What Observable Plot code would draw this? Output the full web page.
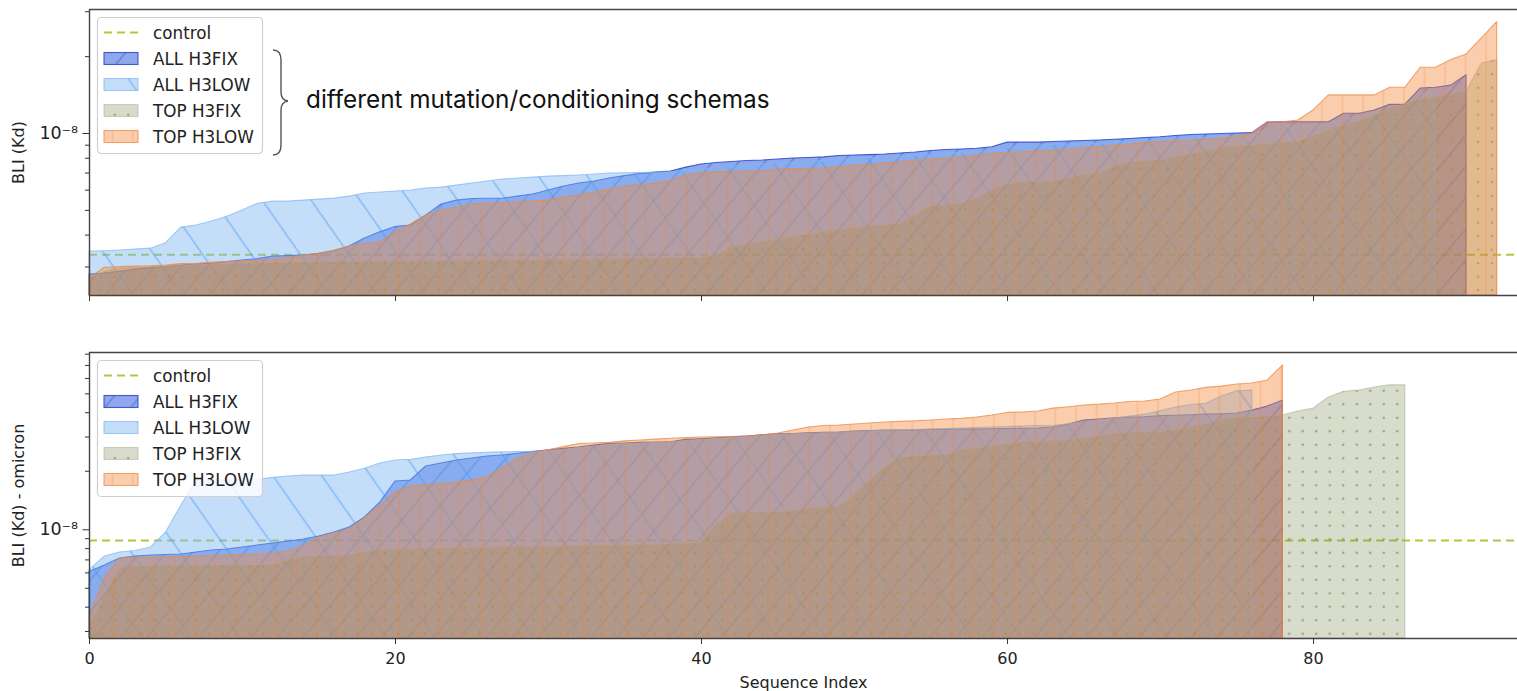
<!DOCTYPE html>
<html><head><meta charset="utf-8">
<script src="https://cdn.jsdelivr.net/npm/d3@7"></script>
<script src="https://cdn.jsdelivr.net/npm/@observablehq/plot@0.6"></script>
<style>
body{margin:0;background:#fff;}
#wrap{width:1517px;height:691px;overflow:hidden;}
#wrap svg{display:block;}
</style>
</head><body><div id="wrap"></div>
<script>
// ---------- DATA (BLI Kd, in nM; sorted per schema) ----------
const seriesNames = ["ALL H3FIX", "ALL H3LOW", "TOP H3FIX", "TOP H3LOW"];
const xTicks = [0, 20, 40, 60, 80];

// Panel 1: BLI (Kd)
const topAllH3fix = [2.80,2.83,2.87,2.93,2.97,3.00,3.04,3.07,3.09,3.14,
 3.18,3.22,3.30,3.31,3.33,3.38,3.45,3.61,3.88,4.10,
 4.30,4.36,4.77,5.27,5.46,5.54,5.55,5.55,5.66,5.77,
 5.98,6.20,6.37,6.49,6.66,6.81,6.94,7.03,7.10,7.35,
 7.56,7.66,7.73,7.80,7.84,7.91,7.98,8.02,8.06,8.16,
 8.20,8.23,8.27,8.35,8.42,8.54,8.62,8.66,8.71,8.84,
 9.21,9.21,9.21,9.26,9.30,9.35,9.39,9.45,9.52,9.60,
 9.67,9.78,9.87,9.91,9.95,10.0,10.03,11.04,11.07,11.07,
 11.07,11.07,11.95,11.95,12.31,12.95,12.97,15.0,15.1,15.4,
 16.9];
const topAllH3low = [3.45,3.46,3.48,3.51,3.54,3.72,4.28,4.36,4.52,4.72,
 4.99,5.31,5.41,5.41,5.46,5.51,5.56,5.66,5.82,5.87,
 5.93,5.98,6.09,6.14,6.25,6.37,6.49,6.60,6.66,6.72,
 6.78,6.81,6.85,6.91,6.97,6.99,7.00,7.02,7.05,7.12,
 7.22,7.32,7.42,7.50,7.57,7.64,7.70,7.76,7.82,7.90,
 7.96,8.00,8.04,8.10,8.17,8.26,8.34,8.40,8.46,8.56,
 8.80,8.90,8.96,9.01,9.05,9.09,9.13,9.19,9.26,9.33,
 9.40,9.50,9.58,9.62,9.67,9.72,9.75,10.4,10.6,10.7,
 10.8,10.85,11.4,11.6,11.9,12.4,12.6,14.2,14.6];
const topTopH3fix = [2.70,2.87,2.96,2.98,2.99,3.01,3.02,3.04,3.05,3.07,
 3.08,3.09,3.11,3.12,3.12,3.13,3.13,3.14,3.14,3.15,
 3.15,3.15,3.16,3.16,3.17,3.17,3.18,3.18,3.19,3.19,
 3.20,3.20,3.21,3.21,3.22,3.22,3.23,3.23,3.24,3.24,
 3.26,3.32,3.58,3.67,3.77,3.84,3.91,4.02,4.10,4.17,
 4.25,4.32,4.36,4.42,4.77,5.17,5.24,5.31,5.56,5.98,
 6.31,6.43,6.44,6.46,6.66,6.85,6.95,7.42,7.72,7.77,
 7.84,8.05,8.27,8.50,8.74,8.89,8.97,9.05,9.18,9.26,
 9.73,10.27,10.75,11.14,11.77,12.53,12.99,13.59,13.85,14.22,
 14.60,18.8,19.4];
const topTopH3low = [2.70,2.98,3.00,3.01,3.02,3.04,3.08,3.09,3.12,3.14,
 3.15,3.17,3.21,3.27,3.31,3.38,3.48,3.61,3.70,3.74,
 4.10,4.40,4.77,4.99,5.12,5.27,5.30,5.34,5.38,5.41,
 5.46,5.61,5.71,5.87,6.03,6.20,6.28,6.35,6.55,6.85,
 7.00,7.06,7.07,7.09,7.13,7.23,7.26,7.28,7.29,7.39,
 7.49,7.52,7.62,7.71,7.84,7.91,7.96,8.06,8.20,8.33,
 8.39,8.45,8.54,8.58,8.66,8.77,8.84,8.97,9.05,9.19,
 9.26,9.35,9.39,9.47,9.53,9.73,10.0,11.04,11.07,11.25,
 12.31,14.1,14.1,14.1,14.1,15.1,15.1,18.1,18.1,19.4,
 20.4,23.6,27.3];
const topControl = 3.35;

// Panel 2: BLI (Kd) - omicron
const botAllH3fix = [6.06,6.55,7.12,7.29,7.38,7.42,7.46,7.64,7.83,7.92,
 8.10,8.30,8.50,8.70,8.91,9.24,9.68,10.27,11.57,13.8,
 17.7,17.93,21.16,21.92,22.72,23.27,23.82,24.1,24.6,25.1,
 25.6,26.1,26.5,27.1,27.7,27.8,28.0,28.1,28.2,29.0,
 29.2,29.5,29.9,30.2,30.6,31.0,31.1,31.3,31.5,31.6,
 32.0,32.2,32.4,32.4,32.4,32.7,32.7,32.8,32.8,32.9,
 33.0,33.1,33.2,33.6,34.8,36.5,36.9,37.4,37.8,37.9,
 38.4,38.6,38.8,39.1,39.3,39.6,41.0,43.0,46.2];
const botAllH3low = [6.18,7.29,7.64,7.78,8.10,9.68,13.3,17.93,17.93,17.93,
 17.93,18.1,18.5,18.8,19.0,19.0,19.0,19.7,20.6,21.9,
 22.7,22.9,23.5,24.1,24.5,24.7,24.85,25.0,25.1,25.2,
 25.4,25.6,26.3,26.8,27.3,27.6,27.8,28.0,28.1,28.6,
 28.9,29.3,29.6,30.0,30.4,30.8,31.0,31.2,31.4,31.6,
 31.9,32.1,32.3,32.4,32.6,32.8,33.0,33.2,33.4,33.6,
 33.8,34.0,34.2,34.3,34.9,35.7,36.5,37.3,38.2,39.1,
 40.7,42.5,43.8,44.5,48.5,51.5,52.0];
const botTopH3fix = [3.10,4.60,6.33,6.44,6.48,6.50,6.51,6.52,6.53,6.54,
 6.55,6.56,6.60,6.95,7.25,7.29,7.33,7.38,7.64,7.83,
 7.92,7.95,7.98,8.00,8.02,8.05,8.08,8.10,8.12,8.15,
 8.18,8.20,8.22,8.25,8.28,8.30,8.33,8.36,8.40,8.45,
 8.55,10.65,12.1,12.2,12.27,12.3,12.4,12.9,13.0,13.2,
 15.0,17.9,20.9,23.5,23.8,24.0,24.1,25.6,26.2,26.8,
 27.3,28.1,28.2,28.6,28.8,29.5,30.4,31.1,31.5,31.6,
 31.7,32.4,33.6,34.8,36.5,37.4,37.8,38.2,38.7,40.6,
 42.0,47.9,51.2,52.0,53.9,55.3,55.3];
const botTopH3low = [3.54,5.69,7.12,7.16,7.20,7.20,7.25,7.29,7.33,7.38,
 7.42,7.46,7.55,7.73,8.20,9.13,9.57,10.04,11.43,13.3,
 15.55,16.7,17.0,17.2,17.5,17.9,18.6,20.7,23.3,24.7,
 25.6,26.6,27.6,27.8,28.0,28.5,28.8,29.1,29.4,29.6,
 29.8,29.9,30.0,30.2,30.6,31.3,32.4,33.6,34.2,34.4,
 34.8,35.2,35.6,35.9,36.1,36.5,36.9,37.2,37.8,38.7,
 39.9,40.1,40.6,42.0,42.7,43.6,44.0,44.6,45.4,45.7,
 46.8,50.8,52.0,53.7,54.5,55.9,56.5,58.6,70.0];
const botControl = 8.81;

const topMinor = [3e-9,4e-9,5e-9,6e-9,7e-9,8e-9,9e-9,2e-8,3e-8];
const botMinor = [3e-9,4e-9,5e-9,6e-9,7e-9,8e-9,9e-9,2e-8,3e-8,4e-8,5e-8,6e-8,7e-8,8e-8];
const majorTicks = [1e-8];

// ---------- STYLE ----------
const W = 1517;
const FONT = "DejaVu Sans";
const sty = {
  "ALL H3FIX": {key:"fix", fill:"#3f66e0", fo:0.58, edge:"#2346c8", eo:0.85},
  "ALL H3LOW": {key:"low", fill:"#7db6f4", fo:0.45, edge:"#80b6ee", eo:0.7},
  "TOP H3FIX": {key:"tfix", fill:"#7f8a55", fo:0.30, edge:"#a4a98a", eo:0.5},
  "TOP H3LOW": {key:"tlow", fill:"#f28a3c", fo:0.42, edge:"#ee8a44", eo:0.75}
};

function rows(arr){ return arr.map((v,i)=>({x:i, y:v*1e-9})); }

function addDefs(svg, id){
  const defs = d3.select(svg).insert("defs", ":first-child");
  const p1 = defs.append("pattern").attr("id", id+"-fix").attr("patternUnits","userSpaceOnUse")
    .attr("width",20).attr("height",20).attr("patternTransform","rotate(40)");
  p1.append("line").attr("x1",10).attr("x2",10).attr("y1",0).attr("y2",20)
    .attr("stroke","#2446b8").attr("stroke-width",1.1).attr("stroke-opacity",0.55);
  const p2 = defs.append("pattern").attr("id", id+"-low").attr("patternUnits","userSpaceOnUse")
    .attr("width",40).attr("height",40).attr("patternTransform","rotate(-35)");
  p2.append("line").attr("x1",20).attr("x2",20).attr("y1",0).attr("y2",40)
    .attr("stroke","#4a96ee").attr("stroke-width",1.1).attr("stroke-opacity",0.7);
  const p3 = defs.append("pattern").attr("id", id+"-tfix").attr("patternUnits","userSpaceOnUse")
    .attr("width",13.5).attr("height",13.5);
  p3.append("circle").attr("cx",6.75).attr("cy",6.75).attr("r",1.25)
    .attr("fill","#7d8a4c").attr("fill-opacity",0.7);
  const p4 = defs.append("pattern").attr("id", id+"-tlow").attr("patternUnits","userSpaceOnUse")
    .attr("width",20.5).attr("height",20);
  p4.append("line").attr("x1",10).attr("x2",10).attr("y1",0).attr("y2",20)
    .attr("stroke","#ef7d2c").attr("stroke-width",1.2).attr("stroke-opacity",0.3);
}

function makePanel(cfg){
  const [y0, y1] = cfg.yDomain;
  const marks = [];
  marks.push(Plot.ruleY([cfg.control*1e-9], {stroke:"#a9cd3a", strokeWidth:2, strokeDasharray:"8,5"}));
  for (const name of seriesNames){
    const s = sty[name];
    const data = rows(cfg.series[name]);
    marks.push(Plot.areaY(data, {x:"x", y1:y0, y2:"y", fill:s.fill, fillOpacity:s.fo, curve:"linear"}));
    marks.push(Plot.areaY(data, {x:"x", y1:y0, y2:"y", fill:`url(#${cfg.id}-${s.key})`, stroke:s.edge, strokeOpacity:s.eo, strokeWidth:1.1, curve:"linear"}));
  }
  // spines
  marks.push(Plot.ruleY([y1], {stroke:"#444", strokeWidth:1.4}));
  marks.push(Plot.ruleY([y0], {stroke:"#444", strokeWidth:1.4}));
  marks.push(Plot.ruleX([0], {stroke:"#444", strokeWidth:1.4}));
  // y axis ticks
  marks.push(Plot.axisY(cfg.minor, {tickSize:4, tickFormat:()=>"", label:null, stroke:"#333"}));
  marks.push(Plot.axisY(majorTicks, {tickSize:6.5, tickPadding:5, tickFormat:()=>"10⁻⁸", label:null, fontSize:17.5, stroke:"#333"}));
  // x axis
  if (cfg.xLabels){
    marks.push(Plot.axisX(xTicks, {tickSize:6, tickPadding:8, fontSize:16, label:null, stroke:"#333"}));
    marks.push(Plot.text(["Sequence Index"], {frameAnchor:"bottom", dy:44, fontSize:16, lineAnchor:"middle"}));
  } else {
    marks.push(Plot.axisX(xTicks, {tickSize:6, tickFormat:()=>"", label:null, stroke:"#333"}));
  }
  marks.push(Plot.text([cfg.ylabel], {frameAnchor:"left", dx:-71, rotate:-90, fontSize:16, textAnchor:"middle", lineAnchor:"middle"}));

  const svg = Plot.plot({
    width: W, height: cfg.height,
    marginLeft: 89, marginRight: 0, marginTop: cfg.marginTop, marginBottom: cfg.marginBottom,
    style: {fontFamily: FONT, fontSize:"16px", color:"#222", background:"#fff", overflow:"visible"},
    x: {domain:[0, 93.33]},
    y: {type:"log", domain:[y0, y1]},
    marks
  });
  addDefs(svg, cfg.id);
  addLegend(svg, cfg.id, cfg.legendTop);
  return svg;
}

function addLegend(svg, id, top){
  const g = d3.select(svg).append("g").attr("font-family", FONT).attr("font-size", 16.8)
    .attr("fill","#222").attr("text-anchor","start");
  g.append("rect").attr("x",97.5).attr("y",top+0.5).attr("width",165).attr("height",136).attr("rx",4)
    .attr("fill","#fff").attr("fill-opacity",0.8).attr("stroke","#cfcfcf").attr("stroke-width",1.2);
  const rowY = i => top + 15.5 + 26*i;
  g.append("line").attr("x1",104).attr("x2",138).attr("y1",rowY(0)).attr("y2",rowY(0))
    .attr("stroke","#a9cd3a").attr("stroke-width",2).attr("stroke-dasharray","8,5");
  g.append("text").attr("x",153).attr("y",rowY(0)).attr("dy","0.36em").text("control");
  seriesNames.forEach((name,i)=>{
    const s = sty[name], y = rowY(i+1);
    g.append("rect").attr("x",104).attr("y",y-6).attr("width",34).attr("height",12)
      .attr("fill",s.fill).attr("fill-opacity",s.fo);
    g.append("rect").attr("x",104).attr("y",y-6).attr("width",34).attr("height",12)
      .attr("fill",`url(#${id}-${s.key})`).attr("stroke",s.edge).attr("stroke-opacity",s.eo).attr("stroke-width",1.1);
    g.append("text").attr("x",153).attr("y",y).attr("dy","0.36em").text(name);
  });
}

const wrap = document.getElementById("wrap");
const svgTop = makePanel({
  id:"p1", height:330, marginTop:9, marginBottom:35,
  yDomain:[2.32e-9, 3.06e-8], control: topControl, minor: topMinor,
  series: {"ALL H3FIX":topAllH3fix, "ALL H3LOW":topAllH3low, "TOP H3FIX":topTopH3fix, "TOP H3LOW":topTopH3low},
  ylabel:"BLI (Kd)", xLabels:false, legendTop:17
});
const ann = d3.select(svgTop).append("g").attr("text-anchor","start");
ann.append("path")
  .attr("d","M273,50 Q281,50 281,60 L281,92 Q281,100 288,101 Q281,102 281,110 L281,145 Q281,155 273,155")
  .attr("fill","none").attr("stroke","#555").attr("stroke-width",1.4);
ann.append("text").attr("x",306).attr("y",108).attr("font-family","Inter").attr("font-size",24.3)
  .attr("fill","#111").text("different mutation/conditioning schemas");
wrap.appendChild(svgTop);

const svgBot = makePanel({
  id:"p2", height:361, marginTop:22, marginBottom:53,
  yDomain:[2.76e-9, 8.16e-8], control: botControl, minor: botMinor,
  series: {"ALL H3FIX":botAllH3fix, "ALL H3LOW":botAllH3low, "TOP H3FIX":botTopH3fix, "TOP H3LOW":botTopH3low},
  ylabel:"BLI (Kd) - omicron", xLabels:true, legendTop:30
});
wrap.appendChild(svgBot);
</script>
</body></html>
